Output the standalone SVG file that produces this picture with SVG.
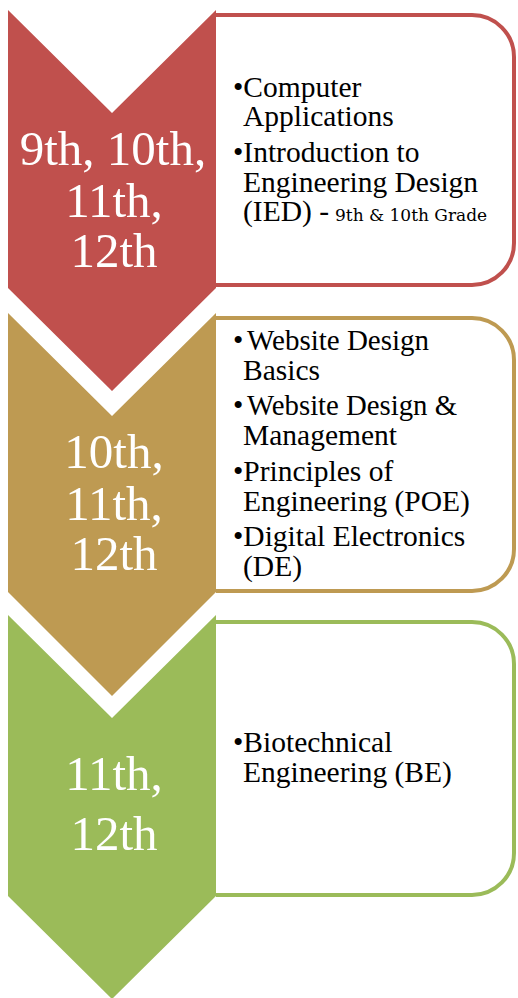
<svg xmlns="http://www.w3.org/2000/svg" width="518" height="998" viewBox="0 0 518 998">
  <style>
    .box { fill: #ffffff; stroke-width: 4; }
    .chev { stroke: none; }
    .grade { font-family: 'Liberation Serif', Tinos, 'Nimbus Roman', 'Times New Roman', Times, serif; font-size: 49px; fill: #ffffff; text-anchor: middle; }
    .item { font-family: 'Liberation Serif', Tinos, 'Nimbus Roman', 'Times New Roman', Times, serif; font-size: 29.5px; fill: #000000; }
    .small { font-family: 'DejaVu Serif', 'Liberation Serif', serif; font-size: 17px; fill: #000000; }
  </style>
  <rect x="0" y="0" width="518" height="998" fill="#ffffff"/>

  <g id="box-red">
    <path class="box" stroke="#C0504D" d="M216,15 H472 A42,42 0 0 1 514,57 V243 A42,42 0 0 1 472,285 H216"/>
    <text class="item" x="233" y="97">•Computer</text>
    <text class="item" x="243" y="126">Applications</text>
    <text class="item" x="233" y="162">•Introduction to</text>
    <text class="item" x="243" y="192">Engineering Design</text>
    <text class="item" x="243" y="221">(IED) -<tspan class="small" x="335">9th &amp; 10th Grade</tspan></text>
  </g>

  <g id="box-gold">
    <path class="box" stroke="#BE9A52" d="M216,318 H472 A42,42 0 0 1 514,360 V549 A42,42 0 0 1 472,591 H216"/>
    <text class="item" x="233" y="350">•<tspan x="247" textLength="182" lengthAdjust="spacingAndGlyphs">Website Design</tspan></text>
    <text class="item" x="243" y="380">Basics</text>
    <text class="item" x="233" y="415">•<tspan x="247" textLength="210" lengthAdjust="spacingAndGlyphs">Website Design &amp;</tspan></text>
    <text class="item" x="243" y="445">Management</text>
    <text class="item" x="233" y="481">•Principles of</text>
    <text class="item" x="243" y="511">Engineering (POE)</text>
    <text class="item" x="233" y="546">•Digital Electronics</text>
    <text class="item" x="243" y="576">(DE)</text>
  </g>

  <g id="box-green">
    <path class="box" stroke="#9BBB59" d="M216,622 H472 A42,42 0 0 1 514,664 V853 A42,42 0 0 1 472,895 H216"/>
    <text class="item" x="233" y="752">•Biotechnical</text>
    <text class="item" x="243" y="782">Engineering (BE)</text>
  </g>

  <g id="chevron-red">
    <polygon class="chev" fill="#C0504D" points="8,10 112,113 216,10 216,288 112,391 8,288"/>
    <text class="grade" x="113" y="165">9th, 10th,</text>
    <text class="grade" x="114" y="217">11th,</text>
    <text class="grade" x="114" y="267">12th</text>
  </g>

  <g id="chevron-gold">
    <polygon class="chev" fill="#BE9A52" points="8,313 112,416 216,313 216,592 112,696 8,592"/>
    <text class="grade" x="114" y="468">10th,</text>
    <text class="grade" x="114" y="520">11th,</text>
    <text class="grade" x="114" y="570">12th</text>
  </g>

  <g id="chevron-green">
    <polygon class="chev" fill="#9BBB59" points="8,615 112,718 216,615 216,896 112,999 8,896"/>
    <text class="grade" x="114" y="790">11th,</text>
    <text class="grade" x="114" y="850">12th</text>
  </g>
</svg>
